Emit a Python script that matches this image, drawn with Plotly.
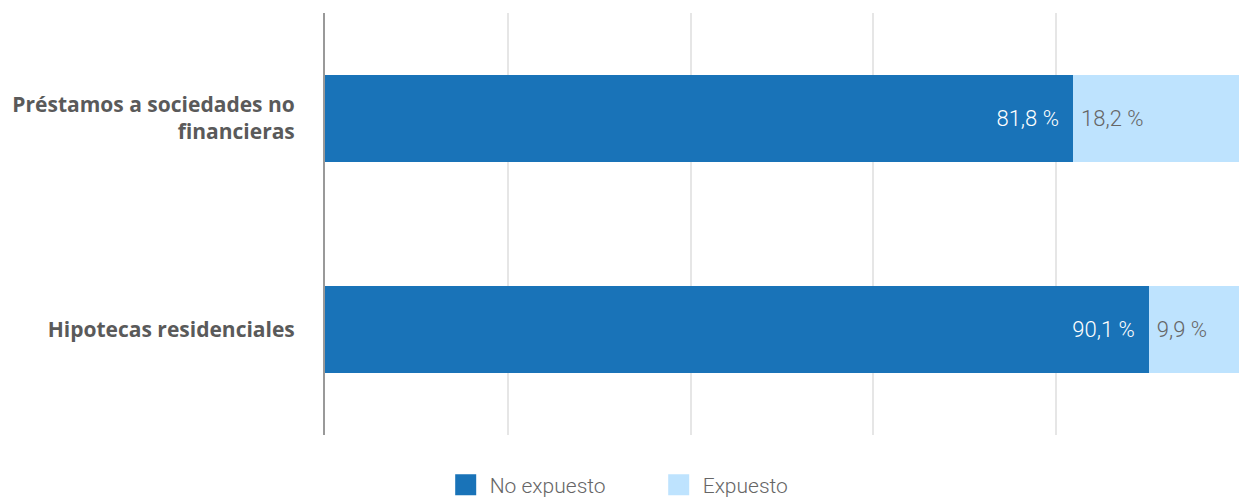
import plotly.graph_objects as go

categories = ["Préstamos a sociedades no<br>financieras", "Hipotecas residenciales"]
no_expuesto = [81.8, 90.1]
expuesto = [18.2, 9.9]
series_names = ["No expuesto", "Expuesto"]
colors = ["#1973b8", "#bee3fe"]

def fmt(v):
    return f"{v:.1f}".replace(".", ",") + " %"

NB = "\u00a0"
fig = go.Figure()
fig.add_trace(go.Bar(
    y=categories, x=no_expuesto, name=series_names[0], orientation="h",
    marker=dict(color=colors[0], line=dict(width=0)),
    text=[fmt(v) + NB + NB for v in no_expuesto], textposition="inside",
    insidetextanchor="end", textangle=0,
    textfont=dict(color="white", size=22, family="Roboto", weight=300),
    hoverinfo="skip", showlegend=False,
))
fig.add_trace(go.Bar(
    y=categories, x=expuesto, name=series_names[1], orientation="h",
    marker=dict(color=colors[1], line=dict(width=0)),
    text=[NB + fmt(v) for v in expuesto], textposition="inside",
    insidetextanchor="start", textangle=0,
    textfont=dict(color="#666666", size=22, family="Roboto", weight=300),
    hoverinfo="skip", showlegend=False,
))
# legend-only entries
for name, col in zip(series_names, colors):
    fig.add_trace(go.Scatter(
        x=[None], y=[None], mode="markers", name=name,
        marker=dict(symbol="square", size=16, color=col, line=dict(color=col, width=5)),
        showlegend=True, hoverinfo="skip",
    ))

fig.update_layout(
    width=1239, height=497,
    barmode="stack", bargap=0.59,
    margin=dict(l=325, r=0, t=13, b=62, autoexpand=False),
    plot_bgcolor="white", paper_bgcolor="white",
    font=dict(family="Roboto", color="#666666"),
    uniformtext=dict(minsize=22, mode="show"),
    legend=dict(orientation="h", xref="container", x=0.3565, xanchor="left",
                yref="container", y=0.024, yanchor="middle",
                font=dict(size=21, color="#666666", family="Roboto", weight=300),
                itemwidth=38, entrywidth=160, entrywidthmode="pixels",
                traceorder="normal"),
    showlegend=True,
)
fig.update_xaxes(range=[0, 100], dtick=20, showticklabels=False,
                 showgrid=True, gridcolor="#e6e6e6", gridwidth=2,
                 zeroline=False, showline=False, fixedrange=True)
fig.update_yaxes(autorange="reversed", showgrid=False, showline=True,
                 linecolor="#999999", linewidth=2,
                 ticks="", ticklabelstandoff=24,
                 tickfont=dict(size=21, color="#5a5a5a", family="Open Sans", weight="bold"))

fig.write_html("out.html", config={"displayModeBar": False},
               post_script="document.body.style.margin='0';")
